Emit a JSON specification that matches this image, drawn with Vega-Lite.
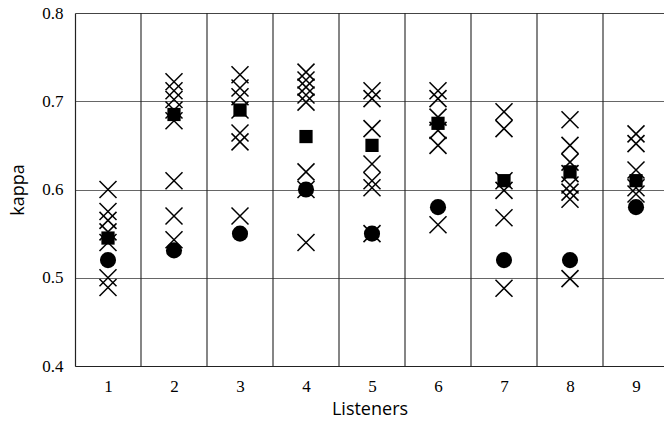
{
  "$schema": "https://vega.github.io/schema/vega-lite/v6.json",
  "width": 589,
  "height": 353,
  "autosize": {"type": "none"},
  "padding": {"left": 75, "top": 13, "right": 0, "bottom": 64},
  "background": "white",
  "config": {
    "view": {"stroke": null},
    "axis": {"labelFont": "Liberation Serif", "labelFontSize": 17, "labelColor": "#000", "titleFont": "Open Sans", "titleFontSize": 18, "titleFontWeight": "normal", "titleColor": "#000"}
  },
  "datasets": {
    "scores": [
      {"listener": 1, "kappa": 0.600, "measure": "single"},
      {"listener": 1, "kappa": 0.575, "measure": "single"},
      {"listener": 1, "kappa": 0.565, "measure": "single"},
      {"listener": 1, "kappa": 0.552, "measure": "single"},
      {"listener": 1, "kappa": 0.540, "measure": "single"},
      {"listener": 1, "kappa": 0.500, "measure": "single"},
      {"listener": 1, "kappa": 0.489, "measure": "single"},
      {"listener": 1, "kappa": 0.545, "measure": "mean"},
      {"listener": 1, "kappa": 0.520, "measure": "overall"},

      {"listener": 2, "kappa": 0.722, "measure": "single"},
      {"listener": 2, "kappa": 0.712, "measure": "single"},
      {"listener": 2, "kappa": 0.702, "measure": "single"},
      {"listener": 2, "kappa": 0.690, "measure": "single"},
      {"listener": 2, "kappa": 0.678, "measure": "single"},
      {"listener": 2, "kappa": 0.610, "measure": "single"},
      {"listener": 2, "kappa": 0.570, "measure": "single"},
      {"listener": 2, "kappa": 0.543, "measure": "single"},
      {"listener": 2, "kappa": 0.685, "measure": "mean"},
      {"listener": 2, "kappa": 0.531, "measure": "overall"},

      {"listener": 3, "kappa": 0.730, "measure": "single"},
      {"listener": 3, "kappa": 0.715, "measure": "single"},
      {"listener": 3, "kappa": 0.705, "measure": "single"},
      {"listener": 3, "kappa": 0.690, "measure": "single"},
      {"listener": 3, "kappa": 0.664, "measure": "single"},
      {"listener": 3, "kappa": 0.654, "measure": "single"},
      {"listener": 3, "kappa": 0.570, "measure": "single"},
      {"listener": 3, "kappa": 0.690, "measure": "mean"},
      {"listener": 3, "kappa": 0.550, "measure": "overall"},

      {"listener": 4, "kappa": 0.733, "measure": "single"},
      {"listener": 4, "kappa": 0.724, "measure": "single"},
      {"listener": 4, "kappa": 0.716, "measure": "single"},
      {"listener": 4, "kappa": 0.707, "measure": "single"},
      {"listener": 4, "kappa": 0.699, "measure": "single"},
      {"listener": 4, "kappa": 0.620, "measure": "single"},
      {"listener": 4, "kappa": 0.600, "measure": "single"},
      {"listener": 4, "kappa": 0.540, "measure": "single"},
      {"listener": 4, "kappa": 0.660, "measure": "mean"},
      {"listener": 4, "kappa": 0.600, "measure": "overall"},

      {"listener": 5, "kappa": 0.712, "measure": "single"},
      {"listener": 5, "kappa": 0.703, "measure": "single"},
      {"listener": 5, "kappa": 0.669, "measure": "single"},
      {"listener": 5, "kappa": 0.629, "measure": "single"},
      {"listener": 5, "kappa": 0.610, "measure": "single"},
      {"listener": 5, "kappa": 0.602, "measure": "single"},
      {"listener": 5, "kappa": 0.550, "measure": "single"},
      {"listener": 5, "kappa": 0.650, "measure": "mean"},
      {"listener": 5, "kappa": 0.550, "measure": "overall"},

      {"listener": 6, "kappa": 0.712, "measure": "single"},
      {"listener": 6, "kappa": 0.703, "measure": "single"},
      {"listener": 6, "kappa": 0.682, "measure": "single"},
      {"listener": 6, "kappa": 0.667, "measure": "single"},
      {"listener": 6, "kappa": 0.650, "measure": "single"},
      {"listener": 6, "kappa": 0.560, "measure": "single"},
      {"listener": 6, "kappa": 0.675, "measure": "mean"},
      {"listener": 6, "kappa": 0.580, "measure": "overall"},

      {"listener": 7, "kappa": 0.688, "measure": "single"},
      {"listener": 7, "kappa": 0.669, "measure": "single"},
      {"listener": 7, "kappa": 0.610, "measure": "single"},
      {"listener": 7, "kappa": 0.599, "measure": "single"},
      {"listener": 7, "kappa": 0.568, "measure": "single"},
      {"listener": 7, "kappa": 0.488, "measure": "single"},
      {"listener": 7, "kappa": 0.610, "measure": "mean"},
      {"listener": 7, "kappa": 0.520, "measure": "overall"},

      {"listener": 8, "kappa": 0.679, "measure": "single"},
      {"listener": 8, "kappa": 0.650, "measure": "single"},
      {"listener": 8, "kappa": 0.631, "measure": "single"},
      {"listener": 8, "kappa": 0.618, "measure": "single"},
      {"listener": 8, "kappa": 0.605, "measure": "single"},
      {"listener": 8, "kappa": 0.597, "measure": "single"},
      {"listener": 8, "kappa": 0.589, "measure": "single"},
      {"listener": 8, "kappa": 0.499, "measure": "single"},
      {"listener": 8, "kappa": 0.620, "measure": "mean"},
      {"listener": 8, "kappa": 0.520, "measure": "overall"},

      {"listener": 9, "kappa": 0.663, "measure": "single"},
      {"listener": 9, "kappa": 0.652, "measure": "single"},
      {"listener": 9, "kappa": 0.622, "measure": "single"},
      {"listener": 9, "kappa": 0.602, "measure": "single"},
      {"listener": 9, "kappa": 0.595, "measure": "single"},
      {"listener": 9, "kappa": 0.610, "measure": "mean"},
      {"listener": 9, "kappa": 0.580, "measure": "overall"}
    ],
    "dividers": [
      {"boundary": 1.5}, {"boundary": 2.5}, {"boundary": 3.5}, {"boundary": 4.5},
      {"boundary": 5.5}, {"boundary": 6.5}, {"boundary": 7.5}, {"boundary": 8.5}
    ]
  },
  "encoding": {
    "x": {
      "field": "listener", "type": "quantitative",
      "scale": {"domain": [0.5, 9.4242], "nice": false, "zero": false},
      "axis": {"title": "Listeners", "values": [1, 2, 3, 4, 5, 6, 7, 8, 9], "grid": false, "ticks": false, "domainColor": "#222", "domainWidth": 1.2, "labelPadding": 12, "titlePadding": 6}
    },
    "y": {
      "field": "kappa", "type": "quantitative",
      "scale": {"domain": [0.4, 0.8], "nice": false, "zero": false},
      "axis": {
        "title": "kappa", "values": [0.4, 0.5, 0.6, 0.7, 0.8], "format": ".1f",
        "grid": true,
        "gridColor": {"condition": {"test": "datum.value >= 0.8", "value": "#444"}, "value": "#666"},
        "gridWidth": 1.1,
        "ticks": false, "domainColor": "#222", "domainWidth": 1.2,
        "labelPadding": 12, "titlePadding": 14
      }
    }
  },
  "layer": [
    {
      "data": {"name": "dividers"},
      "mark": {"type": "rule", "color": "#222", "strokeWidth": 1.1},
      "encoding": {"x": {"field": "boundary", "type": "quantitative"}, "y": null}
    },
    {
      "data": {"name": "scores"},
      "transform": [{"filter": "datum.measure === 'single'"}],
      "mark": {"type": "point", "shape": "M-1,-1L1,1M-1,1L1,-1", "filled": false, "stroke": "#000", "strokeWidth": 1.5, "size": 289, "opacity": 1}
    },
    {
      "data": {"name": "scores"},
      "transform": [{"filter": "datum.measure === 'mean'"}],
      "mark": {"type": "square", "color": "#000", "size": 175, "opacity": 1}
    },
    {
      "data": {"name": "scores"},
      "transform": [{"filter": "datum.measure === 'overall'"}],
      "mark": {"type": "circle", "color": "#000", "size": 260, "opacity": 1}
    }
  ]
}
